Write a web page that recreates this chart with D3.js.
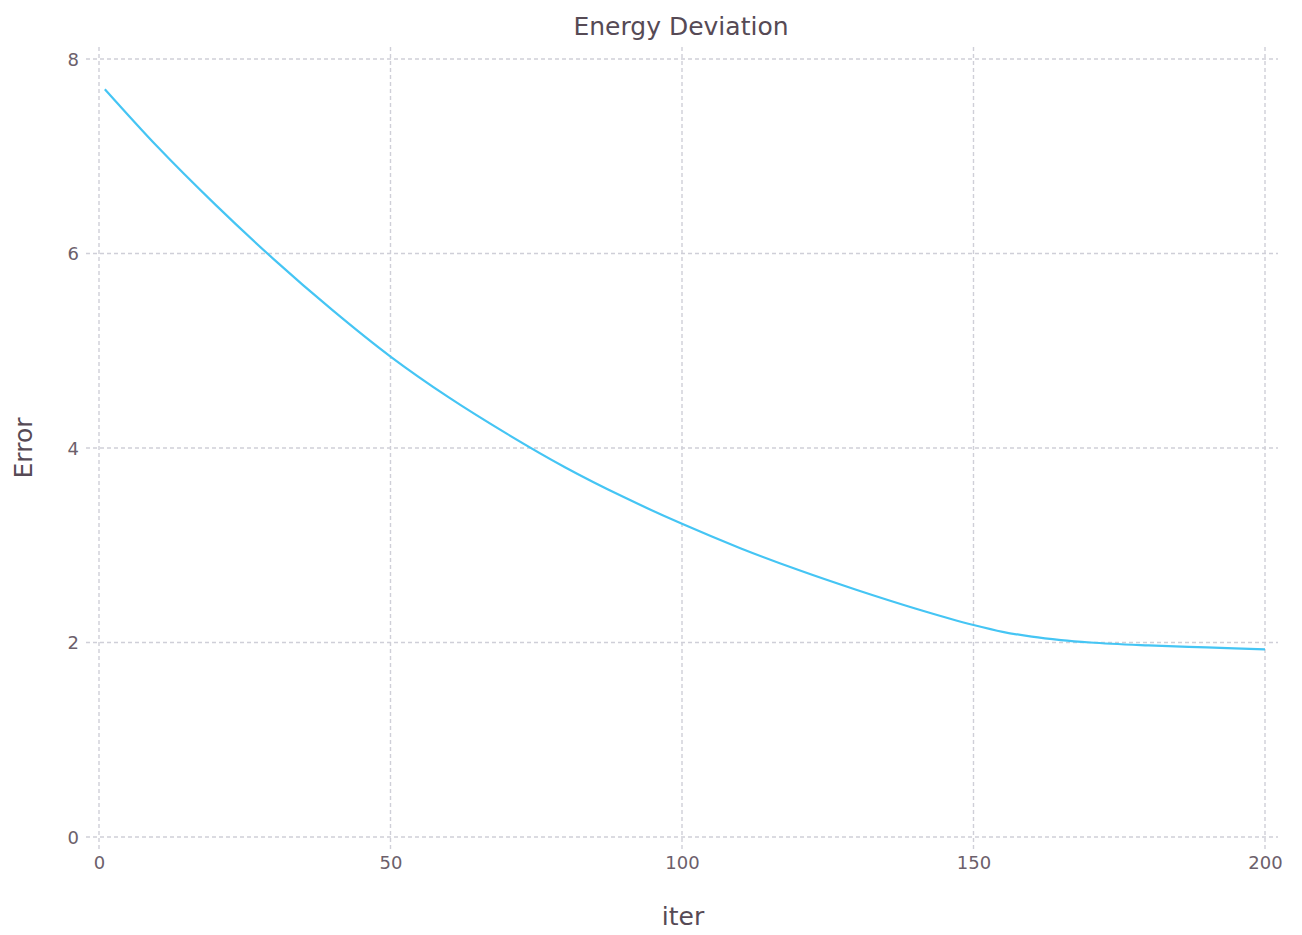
<!DOCTYPE html>
<html>
<head>
<meta charset="utf-8">
<script src="https://cdn.jsdelivr.net/npm/d3@7"></script>
<style>
  body { margin: 0; background: #fff; }
  text { font-family: "DejaVu Sans", sans-serif; }
</style>
</head>
<body>
<svg id="chart" width="1302" height="935"></svg>
<script>
// Data (iteration vs. energy error)
var iters  = [1, 10, 20, 30, 40, 50, 60, 70, 80, 90, 100, 110, 120, 130, 140, 150, 155, 160, 165, 170, 180, 190, 200];
var errors = [7.69, 7.10, 6.50, 5.94, 5.42, 4.94, 4.52, 4.145, 3.80, 3.495, 3.22, 2.97, 2.745, 2.54, 2.35, 2.18, 2.11, 2.06, 2.025, 2.0, 1.97, 1.95, 1.93];
var xTicks = [0, 50, 100, 150, 200];
var yTicks = [0, 2, 4, 6, 8];

var svg = d3.select('#chart');

// Plot panel (the grid sticks out a bit past the tick range, Gadfly style)
var panel = { left: 86, right: 1278, top: 47, bottom: 850 };

var xScale = d3.scaleLinear().domain([0, 200]).range([99, 1265]);
var yScale = d3.scaleLinear().domain([0, 8]).range([837, 59]);

var gridColor = '#cfcfd8';
var labelColor = '#6c606b';
var titleColor = '#564a55';

// Grid lines
var grid = svg.append('g').attr('class', 'grid');
grid.selectAll('line.v')
  .data(xTicks).enter()
  .append('line')
    .attr('class', 'v')
    .attr('x1', function(d) { return xScale(d); })
    .attr('x2', function(d) { return xScale(d); })
    .attr('y1', panel.top).attr('y2', panel.bottom)
    .style('stroke', gridColor).style('stroke-width', 1.4)
    .style('stroke-dasharray', '4,3');
grid.selectAll('line.h')
  .data(yTicks).enter()
  .append('line')
    .attr('class', 'h')
    .attr('y1', function(d) { return yScale(d); })
    .attr('y2', function(d) { return yScale(d); })
    .attr('x1', panel.left).attr('x2', panel.right)
    .style('stroke', gridColor).style('stroke-width', 1.4)
    .style('stroke-dasharray', '4,3');

// Axes: labels only, no domain path or tick marks
var xAxis = d3.axisBottom(xScale).tickValues(xTicks).tickSize(0).tickPadding(0);
var yAxis = d3.axisLeft(yScale).tickValues(yTicks).tickSize(0).tickPadding(0)
  .tickFormat(d3.format('d'));

var gx = svg.append('g')
  .attr('class', 'x axis')
  .attr('transform', 'translate(0,' + 856 + ')')
  .call(xAxis);
var gy = svg.append('g')
  .attr('class', 'y axis')
  .attr('transform', 'translate(' + 79 + ',0)')
  .call(yAxis);
[gx, gy].forEach(function(g) {
  g.select('.domain').remove();
  g.selectAll('text')
    .style('font-family', '"DejaVu Sans", sans-serif')
    .style('font-size', '18px')
    .style('fill', labelColor);
});
gy.selectAll('text').attr('dy', '0.36em');

// The curve
var line = d3.line()
  .x(function(d, i) { return xScale(iters[i]); })
  .y(function(d) { return yScale(d); })
  .curve(d3.curveMonotoneX);

svg.append('path')
  .datum(errors)
  .attr('class', 'line')
  .attr('d', line)
  .style('fill', 'none')
  .style('stroke', '#45c5f4')
  .style('stroke-width', 2.2);

// Titles
svg.append('text')
  .attr('x', 681).attr('y', 35)
  .attr('text-anchor', 'middle')
  .style('font-size', '25px')
  .style('fill', titleColor)
  .text('Energy Deviation');

svg.append('text')
  .attr('x', 683).attr('y', 925)
  .attr('text-anchor', 'middle')
  .style('font-size', '25px')
  .style('fill', titleColor)
  .text('iter');

svg.append('text')
  .attr('transform', 'translate(32,448) rotate(-90)')
  .attr('text-anchor', 'middle')
  .style('font-size', '25px')
  .style('fill', titleColor)
  .text('Error');
</script>
</body>
</html>
